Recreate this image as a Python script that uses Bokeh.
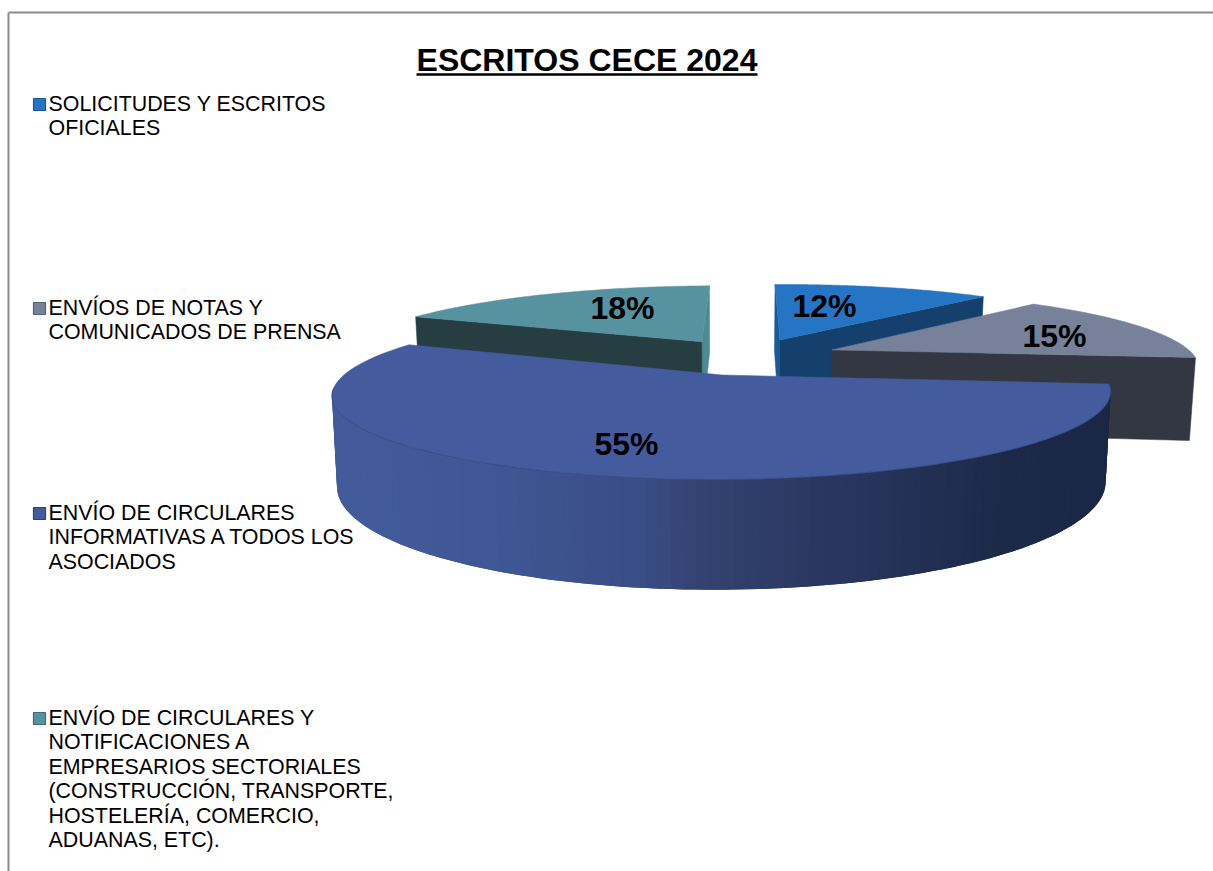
import numpy as np
from bokeh.plotting import figure
from bokeh.models import Range1d
from bokeh.core.properties import value
from bokeh.embed import file_html
from bokeh.resources import INLINE

# ---- data ----
TITLE = "ESCRITOS CECE 2024"
categories = [
    "SOLICITUDES Y ESCRITOS\nOFICIALES",
    "ENVÍOS DE NOTAS Y\nCOMUNICADOS DE PRENSA",
    "ENVÍO DE CIRCULARES\nINFORMATIVAS A TODOS LOS\nASOCIADOS",
    "ENVÍO DE CIRCULARES Y\nNOTIFICACIONES A\nEMPRESARIOS SECTORIALES\n(CONSTRUCCIÓN, TRANSPORTE,\nHOSTELERÍA, COMERCIO,\nADUANAS, ETC).",
]
values = [12, 15, 55, 18]

# ---- style ----
top_colors = ["#2575c4", "#778199", "#445c9e", "#56929f"]
key_borders = ["#1b5a98", "#586174", "#2f4170", "#3e6c76"]
cut_colors = ["#153f6c", "#323741", None, "#263d42"]
inner_colors = ["#1a5a96", None, None, "#4d8a97"]
label_xy = [(824, 305), (1054, 335), (626, 443), (622, 307)]
legend_y = [104, 308, 513, 718]
LINE_STEP = 24.5

# ---- 3D pie projection (screen pixels) ----
CX, CY, A, B, K = 722.0, 376.0, 380.0, 80.0, 0.225
ORIGIN = (0.069, 0.24)       # pie centre in world units
EXPLODE = 0.25
DEPTH, BOTTOM_SCALE = 86.5, 0.987


def project(wx, wy, z=0.0):
    f = 1.0 / (1.0 + K * wy)
    s = 1.0 - (1.0 - BOTTOM_SCALE) * z
    skew_x = 4.0 * wy + 3.0 * wx * wy
    skew_y = -1.5 * (wx + 1.0) - 1.2 * wy
    return (CX + wx * A * f * s + skew_x,
            CY - wy * B * f * s + z * DEPTH * f + skew_y)


total = float(sum(values))
edges = np.concatenate([[0.0], np.cumsum(values)]) / total * 2 * np.pi
vertices = []
for a0, a1 in zip(edges[:-1], edges[1:]):
    mid = (a0 + a1) / 2
    vertices.append((ORIGIN[0] + EXPLODE * np.sin(mid), ORIGIN[1] + EXPLODE * np.cos(mid)))


def rim(i, t):
    return vertices[i][0] + np.sin(t), vertices[i][1] + np.cos(t)


p = figure(width=1213, height=871, output_backend="svg", toolbar_location=None,
           x_range=Range1d(0, 1213), y_range=Range1d(871, 0),
           min_border=0, outline_line_color=None, background_fill_color="white")
p.xaxis.visible = False
p.yaxis.visible = False
p.grid.visible = False

# frame
p.line([8, 8], [871, 12], line_color="#8c8c8c", line_width=2)
p.line([8, 1213], [12, 12], line_color="#8c8c8c", line_width=2)


def cut_face(i, t, color):
    vx, vy = vertices[i]
    rx, ry = rim(i, t)
    xs, ys = [], []
    for wx, wy, z in [(vx, vy, 0), (rx, ry, 0), (rx, ry, 1), (vx, vy, 1)]:
        x, y = project(wx, wy, z)
        xs.append(x)
        ys.append(y)
    p.patch(xs, ys, fill_color=color, line_color=color, line_width=0.5)


def top_face(i):
    ts = np.linspace(edges[i], edges[i + 1], 80)
    rx, ry = rim(i, ts)
    x, y = project(rx, ry)
    vx, vy = project(*vertices[i])
    p.patch(np.r_[vx, x], np.r_[vy, y], fill_color=top_colors[i],
            line_color=top_colors[i], line_width=0.5)


# gradient stops of the big slice's outer wall, by screen x
stop_x = [330, 500, 640, 700, 780, 900, 1000, 1110]
stop_rgb = np.array([[0x43, 0x5c, 0x9b], [0x3f, 0x57, 0x94], [0x3a, 0x4d, 0x85], [0x34, 0x43, 0x72],
                     [0x2d, 0x3b, 0x66], [0x25, 0x32, 0x58], [0x1e, 0x2a, 0x4a], [0x1b, 0x27, 0x46]])


def outer_wall(i, t0, t1, n=110):
    # drawn from the left end to the right, each band overlapping the next so no seams show
    ts = np.linspace(t1, t0, n + 1)
    rx, ry = rim(i, ts)
    xt, yt = project(rx, ry, 0)
    xb, yb = project(rx, ry, 1)
    for k in range(n):
        j = min(k + 2, n)
        mx = (xt[k] + xt[k + 1]) / 2
        rgb = [int(np.interp(mx, stop_x, stop_rgb[:, c])) for c in range(3)]
        col = "#%02x%02x%02x" % tuple(rgb)
        xs = list(xt[k:j + 1]) + list(xb[k:j + 1][::-1])
        ys = list(yt[k:j + 1]) + list(yb[k:j + 1][::-1])
        p.patch(xs, ys, fill_color=col, line_color=None)
    return xt, yt


# slice 1 (back right)
cut_face(0, edges[0], inner_colors[0])
cut_face(0, edges[1], cut_colors[0])
top_face(0)
# slice 4 (back left)
cut_face(3, edges[4], inner_colors[3])
cut_face(3, edges[3], cut_colors[3])
top_face(3)
# slice 2 (right)
cut_face(1, edges[2], cut_colors[1])
top_face(1)
# slice 3 (front)
xt, yt = outer_wall(2, edges[2], np.deg2rad(262))
top_face(2)
p.line(xt, yt, line_color="#33477c", line_width=0.8)

# percent labels
p.text([q[0] for q in label_xy], [q[1] for q in label_xy],
       text=["%d%%" % v for v in values], text_font=value("Liberation Sans"),
       text_font_style="bold", text_font_size="32px", text_color="black",
       text_align="center", text_baseline="middle")

# title
p.text([586.5], [59], text=[TITLE], text_font=value("Liberation Sans"), text_font_style="bold",
       text_font_size="32px", text_color="black", text_align="center", text_baseline="middle")
p.line([416, 757], [74, 74], line_color="black", line_width=2.5)

# legend
for i, cat in enumerate(categories):
    p.scatter([39], [legend_y[i]], marker="square", size=12, fill_color=top_colors[i],
              line_color=key_borders[i], line_width=1.2)
    lines = cat.split("\n")
    p.text([48] * len(lines), [legend_y[i] - 1 + j * LINE_STEP for j in range(len(lines))], text=lines,
           text_font=value("Liberation Sans"), text_font_size="21.4px", text_color="black",
           text_align="left", text_baseline="middle")

open("out.html", "w").write(file_html(p, INLINE))
